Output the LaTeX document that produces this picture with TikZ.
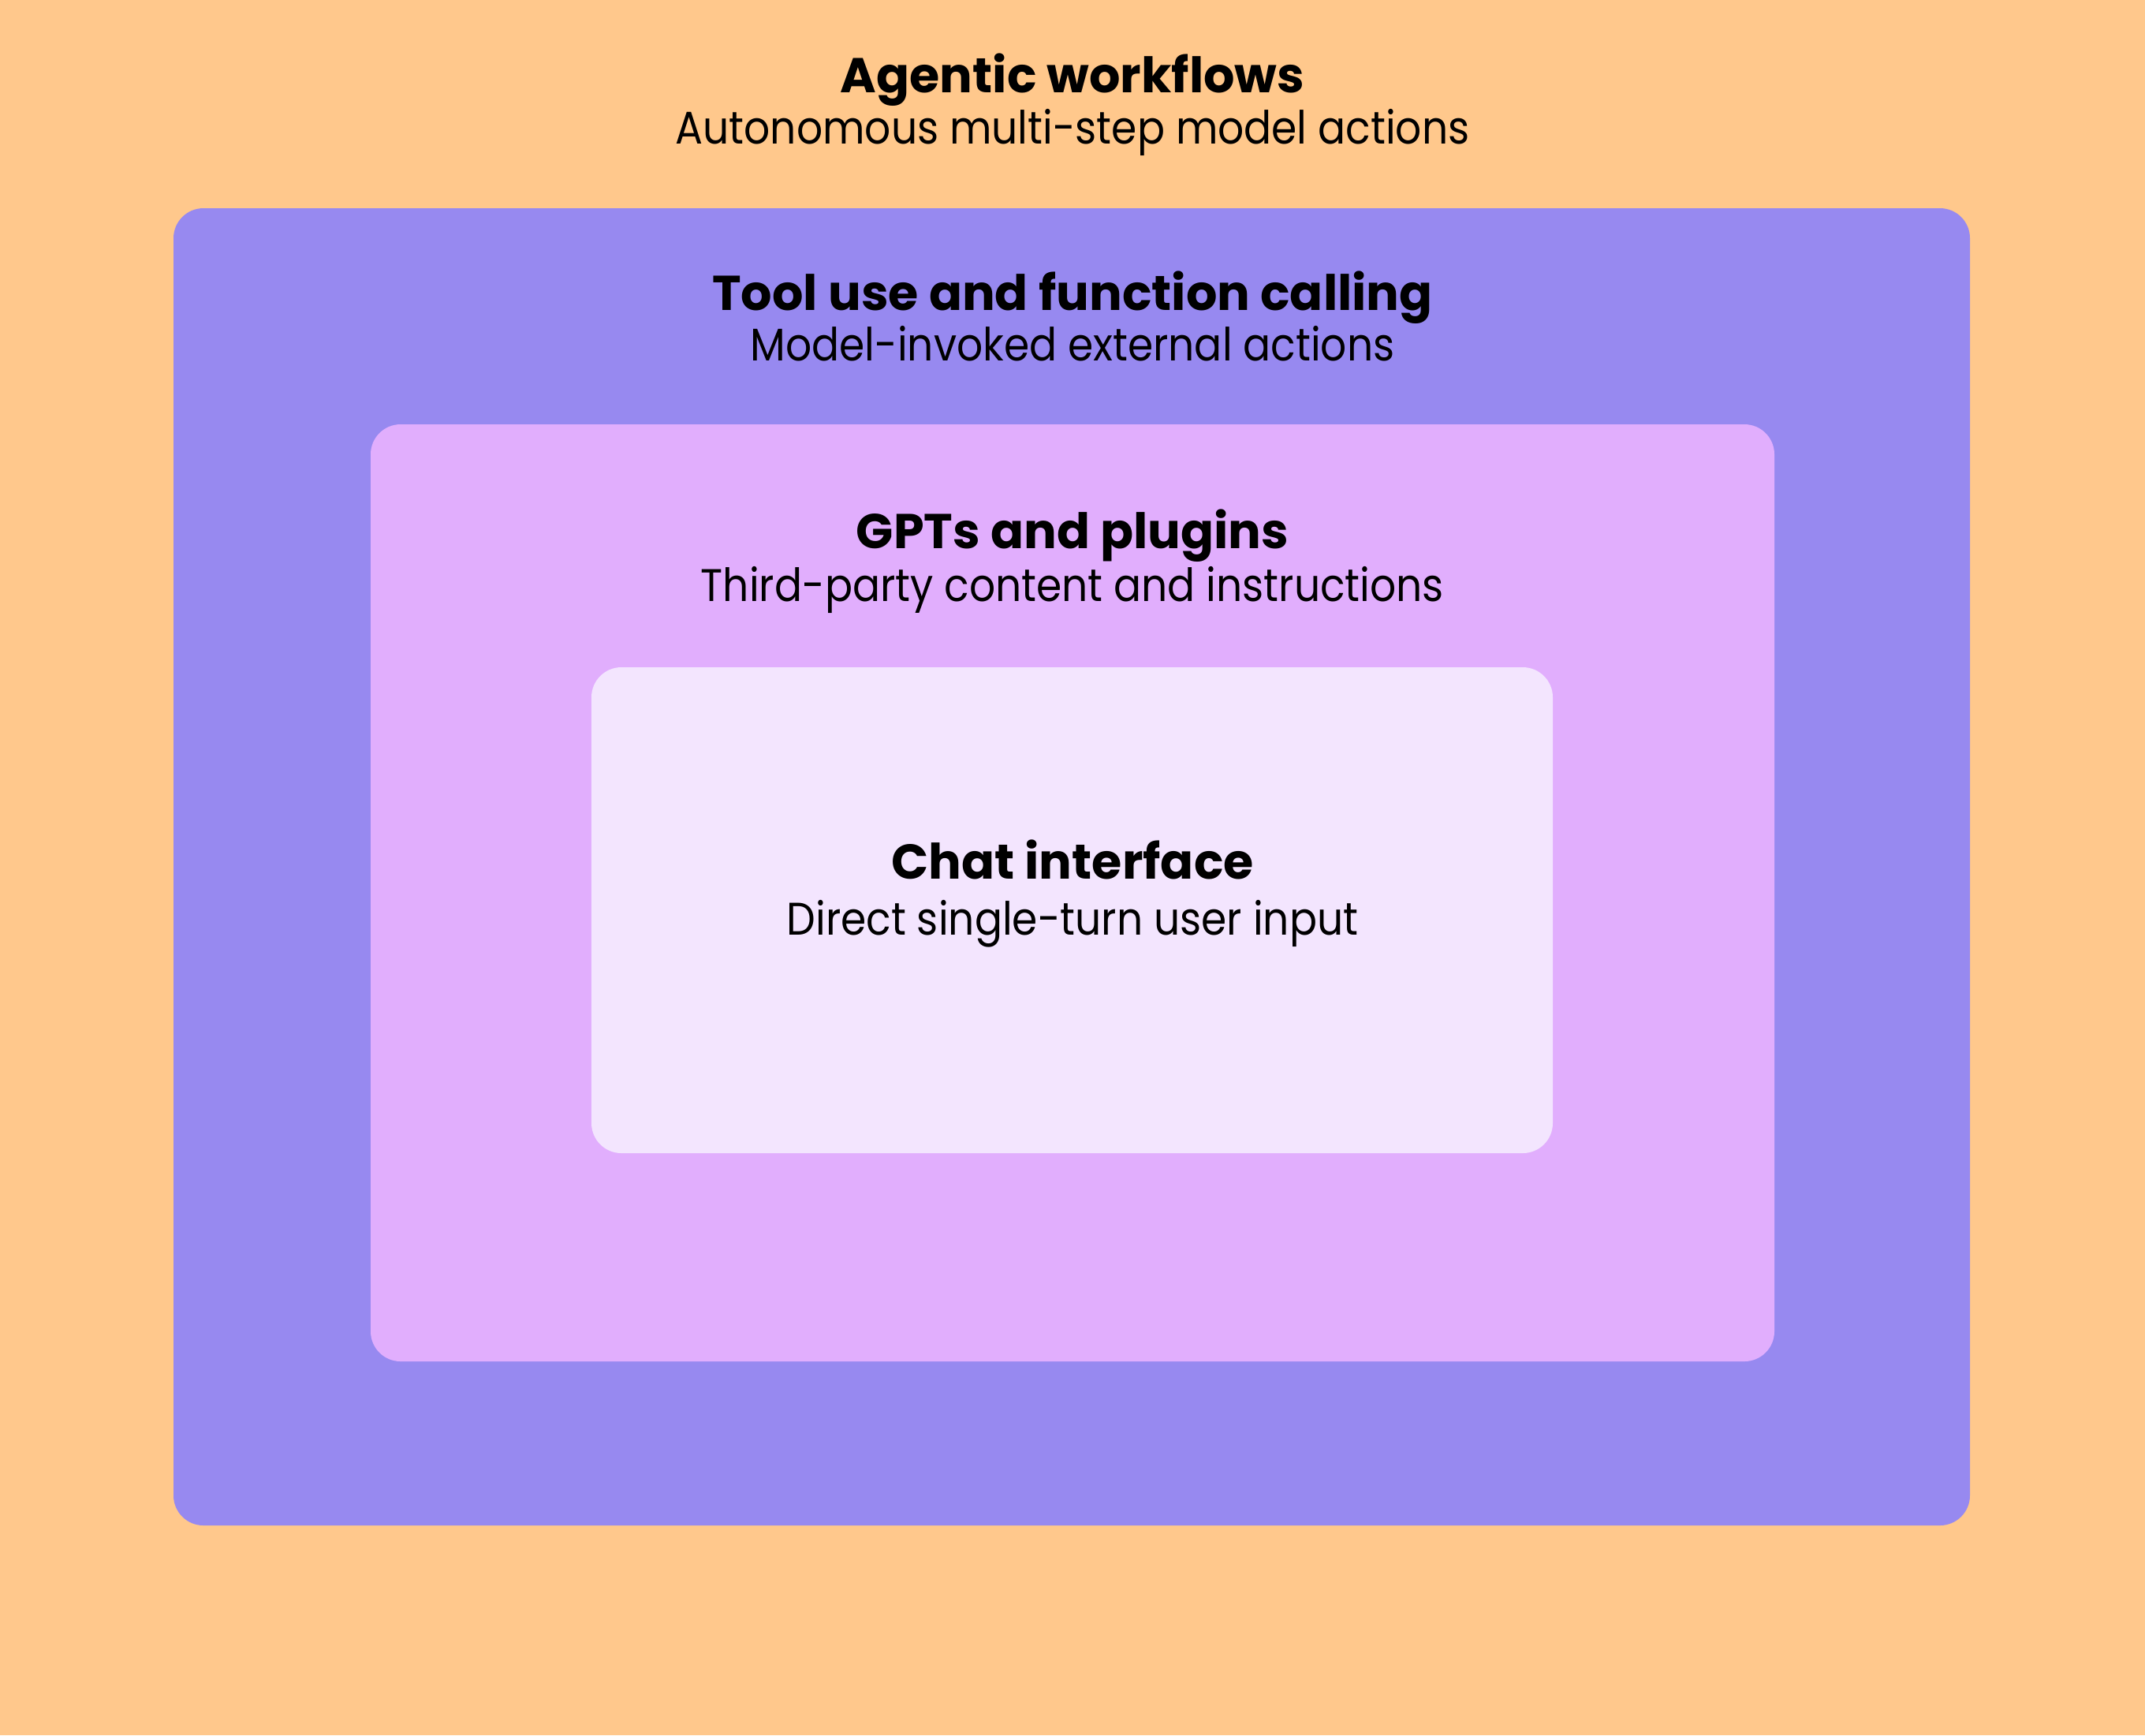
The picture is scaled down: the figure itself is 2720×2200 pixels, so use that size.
\documentclass[tikz,border=0pt]{standalone}
\usepackage{fontspec}
\setmainfont{Poppins}[FakeStretch=0.895]
\newfontfamily\ttlfont{Poppins}
\definecolor{bgc}{HTML}{FFC88C}
\definecolor{toolc}{HTML}{9789F0}
\definecolor{gptc}{HTML}{E1AEFD}
\definecolor{chatc}{HTML}{F3E5FE}
\begin{document}
\begin{tikzpicture}[x=0.25pt,y=-0.25pt,
  layerbox/.style={rounded corners=9.5pt},
  ttl/.style={anchor=base,inner sep=0pt,font=\ttlfont\fontsize{15.5}{18}\selectfont\bfseries},
  sub/.style={anchor=base,inner sep=0pt,font=\fontsize{14.5}{17}\selectfont}]
\fill[bgc] (0,0) rectangle (2720,2200);
\useasboundingbox (0,0) rectangle (2720,2200);
\fill[toolc,layerbox] (220,264) rectangle (2498,1934);
\fill[gptc,layerbox] (470,538) rectangle (2250,1726);
\fill[chatc,layerbox] (750,846) rectangle (1969,1462);
\node[ttl] (agt) at (1360,117) {Agentic workflows};
\node[sub] (ags) at (1360,182) {Autonomous multi-step model actions};
\node[ttl] (tlt) at (1360,393) {Tool use and function calling};
\node[sub] (tls) at (1360,457) {Model-invoked external actions};
\node[ttl] (gpt) at (1360,695) {GPTs and plugins};
\node[sub] (gps) at (1360,762) {Third-party content and instructions};
\node[ttl] (cht) at (1360,1114) {Chat interface};
\node[sub] (chs) at (1360,1185) {Direct single-turn user input};
\end{tikzpicture}
\end{document}
